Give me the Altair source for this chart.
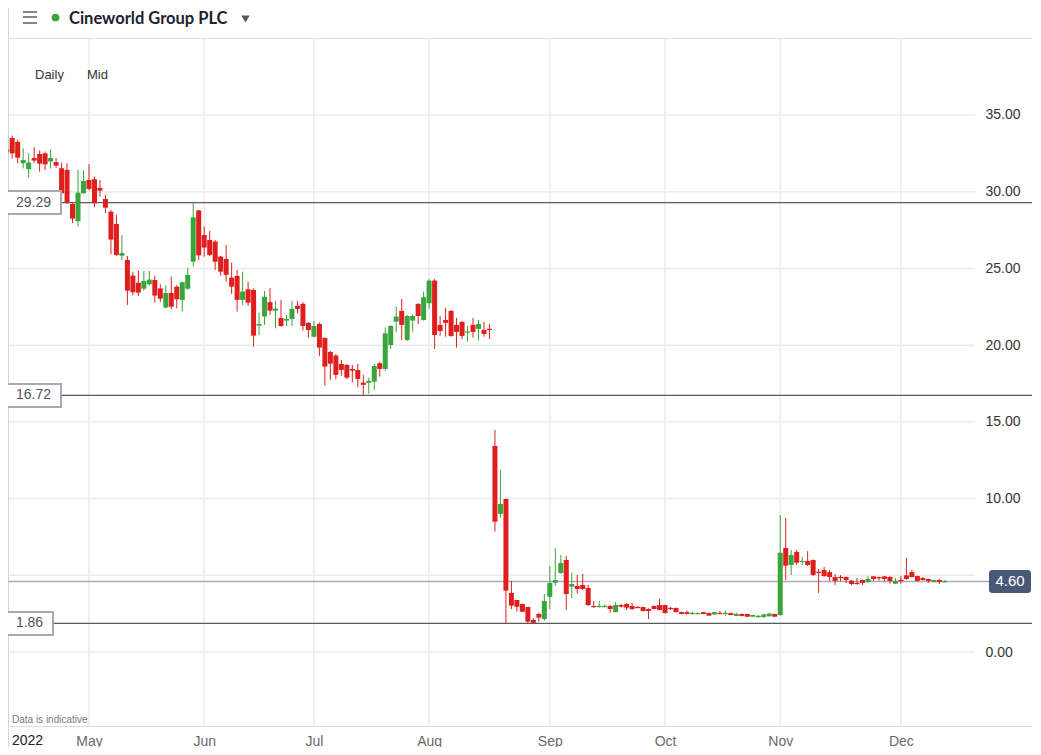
import altair as alt
import pandas as pd

# ---------------- data ----------------
opens = [32.6, 33.5, 33.25, 31.86, 31.47, 32.2, 32.46, 32.5, 31.97, 31.93,
         31.53, 31.42, 29.2, 28.08, 29.9, 30.77, 30.81, 30.25, 29.53, 28.7,
         27.9, 25.83, 25.55, 24.53, 24.07, 23.68, 23.97, 24.25, 23.7, 22.45,
         23.4, 23.81, 22.95, 23.68, 25.44, 28.78, 27.18, 26.86, 26.75, 25.77,
         25.62, 24.4, 24.51, 22.95, 23.64, 23.6, 21.27, 21.86, 22.8, 22.25,
         21.77, 21.6, 21.71, 22.56, 22.69, 21.45, 20.55, 21.38, 20.47, 19.56,
         19.32, 18.77, 18.71, 18.45, 18.38, 17.56, 17.54, 17.62, 18.82, 18.45,
         20.01, 21.53, 22.23, 20.34, 21.6, 22.69, 21.64, 22.73, 24.21, 21.32,
         21.64, 22.23, 21.32, 21.51, 20.82, 21.32, 21.06, 20.99, 21.06, 13.43,
         9.0, 9.97, 3.85, 3.39, 3.13, 2.93, 2.09, 2.48, 2.15, 3.6,
         4.52, 5.15, 6.0, 4.26, 4.3, 4.37, 4.17, 3.0, 2.93, 2.93,
         3.0, 2.6, 3.06, 3.13, 3.0, 2.93, 2.93, 2.8, 3.0, 3.06,
         3.06, 2.87, 2.87, 2.6, 2.6, 2.48, 2.47, 2.6, 2.54, 2.45,
         2.54, 2.48, 2.54, 2.35, 2.48, 2.48, 2.3, 2.28, 2.28, 2.33,
         2.48, 2.41, 6.78, 5.67, 6.52, 5.87, 5.93, 6.0, 5.23, 5.35,
         5.21, 4.89, 4.89, 4.89, 4.65, 4.5, 4.69, 4.56, 4.93, 4.89,
         4.93, 4.89, 4.45, 4.69, 5.0, 5.21, 4.95, 4.82, 4.76, 4.56,
         4.69, 4.56]
highs = [32.8, 33.66, 33.4, 32.83, 32.5, 32.9, 32.68, 32.62, 32.77, 32.2,
         31.9, 31.86, 29.25, 31.42, 31.38, 31.79, 30.98, 30.77, 29.79, 28.81,
         28.5, 27.18, 25.81, 24.79, 24.86, 24.84, 24.84, 24.53, 23.97, 23.9,
         24.47, 23.9, 24.14, 25.05, 29.29, 28.81, 27.73, 27.44, 26.86, 25.83,
         26.53, 25.38, 24.9, 24.79, 24.12, 23.7, 22.12, 23.53, 23.71, 22.88,
         22.95, 21.97, 22.88, 22.88, 22.8, 21.5, 21.58, 21.47, 20.5, 19.62,
         19.43, 19.04, 18.77, 18.71, 18.77, 18.06, 17.88, 18.77, 18.9, 21.14,
         21.3, 22.51, 23.01, 21.97, 22.01, 22.73, 23.49, 24.3, 24.3, 21.9,
         22.43, 22.29, 21.77, 21.58, 21.25, 21.77, 21.64, 21.51, 21.38, 14.47,
         11.86, 10.0, 4.63, 3.4, 3.15, 2.95, 2.2, 2.56, 3.78, 5.61,
         6.78, 6.32, 6.26, 5.15, 5.02, 5.08, 4.37, 3.32, 3.32, 3.1,
         3.05, 3.26, 3.13, 3.19, 3.19, 2.98, 2.96, 2.85, 3.03, 3.45,
         3.08, 2.93, 2.9, 2.63, 2.7, 2.63, 2.56, 2.62, 2.56, 2.63,
         2.67, 2.7, 2.56, 2.56, 2.5, 2.5, 2.43, 2.41, 2.5, 2.56,
         2.5, 8.93, 8.74, 6.65, 6.65, 6.19, 6.58, 6.02, 5.41, 5.54,
         5.35, 5.08, 5.02, 4.92, 4.7, 4.82, 4.72, 4.95, 4.95, 4.93,
         4.95, 4.95, 4.82, 4.95, 6.13, 5.35, 4.98, 4.9, 4.78, 4.72,
         4.76, 4.7]
lows = [32.5, 32.16, 31.86, 31.53, 30.93, 31.86, 31.31, 31.42, 31.51, 31.55,
        29.85, 29.2, 27.95, 27.73, 29.85, 30.1, 28.99, 29.68, 28.6, 25.93,
        25.8, 25.55, 22.62, 23.23, 23.2, 23.55, 23.9, 22.77, 22.8, 22.4,
        22.34, 22.4, 22.18, 23.6, 25.12, 25.55, 25.77, 25.8, 24.9, 24.53,
        24.14, 23.34, 22.18, 22.62, 22.56, 19.9, 20.66, 21.32, 21.97, 21.1,
        21.2, 21.25, 21.25, 22.08, 20.95, 20.49, 20.5, 19.3, 17.36, 17.73,
        17.78, 18.0, 17.8, 17.58, 17.25, 16.75, 16.84, 17.08, 17.95, 18.32,
        19.75, 20.82, 20.34, 20.27, 20.88, 21.38, 21.6, 22.36, 19.75, 20.62,
        20.55, 20.55, 19.84, 20.4, 20.23, 20.49, 20.3, 20.55, 20.4, 7.84,
        8.75, 1.87, 2.8, 2.63, 2.6, 1.87, 1.86, 1.98, 2.04, 2.8,
        4.32, 5.1, 2.74, 3.52, 3.8, 4.04, 3.0, 2.87, 2.9, 2.9,
        2.56, 2.58, 2.9, 2.74, 2.75, 2.85, 2.64, 2.15, 2.78, 2.72,
        2.5, 2.74, 2.58, 2.46, 2.44, 2.44, 2.45, 2.46, 2.35, 2.43,
        2.46, 2.37, 2.39, 2.33, 2.33, 2.28, 2.28, 2.22, 2.22, 2.31,
        2.28, 2.35, 4.69, 5.02, 5.67, 5.67, 5.6, 4.95, 3.85, 4.9,
        4.63, 4.37, 4.6, 4.5, 4.37, 4.4, 4.37, 4.52, 4.63, 4.65,
        4.6, 4.45, 4.43, 4.45, 4.7, 4.85, 4.6, 4.66, 4.5, 4.54,
        4.43, 4.54]
closes = [32.75, 32.5, 32.22, 32.07, 31.9, 32.03, 31.83, 31.78, 32.2, 31.7,
          29.9, 29.29, 28.25, 29.94, 30.7, 30.18, 29.25, 30.07, 28.96, 26.88,
          25.88, 26.0, 23.55, 23.45, 23.42, 24.18, 24.27, 23.23, 23.03, 23.4,
          22.51, 22.99, 24.1, 24.58, 28.33, 25.85, 26.36, 25.88, 25.44, 24.79,
          24.58, 23.81, 22.95, 23.49, 22.77, 20.62, 21.38, 23.16, 22.25, 22.38,
          21.25, 21.71, 22.36, 22.36, 21.25, 20.99, 21.25, 19.84, 18.6, 18.79,
          18.06, 18.38, 17.88, 18.34, 17.8, 17.41, 17.67, 18.64, 18.45, 20.77,
          21.25, 21.86, 21.32, 21.9, 21.9, 21.9, 23.12, 24.21, 20.66, 20.92,
          21.45, 20.6, 20.86, 20.6, 20.88, 20.86, 21.38, 20.73, 20.99, 8.49,
          9.65, 4.0, 3.02, 2.95, 2.63, 1.98, 1.9, 2.24, 3.32, 4.5,
          4.69, 5.8, 3.78, 4.43, 4.11, 4.11, 3.06, 2.93, 3.0, 3.0,
          2.8, 3.06, 2.95, 2.89, 2.8, 2.87, 2.67, 2.67, 2.8, 2.74,
          2.54, 2.8, 2.6, 2.48, 2.48, 2.54, 2.54, 2.48, 2.37, 2.6,
          2.48, 2.54, 2.41, 2.48, 2.35, 2.3, 2.41, 2.35, 2.45, 2.5,
          2.3, 6.47, 5.63, 6.32, 5.82, 5.93, 5.67, 5.02, 5.15, 4.95,
          4.89, 4.63, 4.82, 4.69, 4.43, 4.43, 4.5, 4.76, 4.76, 4.8,
          4.76, 4.63, 4.63, 4.63, 4.76, 4.89, 4.63, 4.69, 4.63, 4.69,
          4.56, 4.6]

month_names = ["May", "Jun", "Jul", "Aug", "Sep", "Oct", "Nov", "Dec"]
month_start_idx = [15, 36, 56, 77, 99, 120, 141, 163]
grid_values = [0, 5, 10, 15, 20, 25, 30, 35]
axis_label_values = [0, 10, 15, 20, 25, 30, 35]
level_values = [29.29, 16.72]
level_values_small = [1.86]
last_price = 4.60

# ---------------- layout ----------------
W, H = 1024, 688
PX_DAY = 5.486
PX_UNIT = 15.343
x_dom = [1.3 / PX_DAY, 1.3 / PX_DAY + W / PX_DAY]
y_top = 614 / PX_UNIT
y_dom = [y_top - H / PX_UNIT, y_top]
BOX_HALF = 11.5 / PX_UNIT

RED = "#e01e1e"
GREEN = "#3aa53a"
FONT = "Liberation Sans"

candles = pd.DataFrame({"idx": list(range(len(opens))), "open": opens, "high": highs,
                        "low": lows, "close": closes})
candles["dir"] = ["up" if c >= o else "down" for o, c in zip(opens, closes)]
lo = candles[["open", "close"]].min(axis=1)
hi = candles[["open", "close"]].max(axis=1)
mid = (lo + hi) / 2
small = (hi - lo) < 0.08
candles["body_lo"] = lo.where(~small, mid - 0.04)
candles["body_hi"] = hi.where(~small, mid + 0.04)

xs = alt.Scale(domain=x_dom, nice=False, zero=False, padding=0)
ys = alt.Scale(domain=y_dom, nice=False, zero=False, padding=0)
label_expr = " : ".join(f"datum.value == {i} ? '{n}'" for i, n in zip(month_start_idx, month_names)) + " : ''"
xaxis = alt.Axis(values=month_start_idx, labelExpr=label_expr, grid=False, domain=False,
                 ticks=False, tickSize=0, labelPadding=15, labelBaseline="middle",
                 labelFont=FONT, labelFontSize=14, labelColor="#6a6a6a", title=None,
                 labelFlush=False, zindex=0)
yaxis = alt.Axis(orient="right", values=axis_label_values, format=".2f", grid=False,
                 domain=False, ticks=False, tickSize=0, labelPadding=4, offset=-51,
                 labelFont=FONT, labelFontSize=14, labelColor="#333333", title=None,
                 labelAlign="left", zindex=1)


def X(f):
    return alt.X(f, type="quantitative", scale=xs, axis=xaxis)


def Y(f):
    return alt.Y(f, type="quantitative", scale=ys, axis=yaxis)


color = alt.Color("dir:N", scale=alt.Scale(domain=["up", "down"], range=[GREEN, RED]), legend=None)
one = alt.Data(values=[{}])

hgrid = alt.Chart(pd.DataFrame({"v": grid_values})).mark_rule(color="#ececec", strokeWidth=1.5).encode(
    y=Y("v"), x=alt.value(0), x2=alt.value(967))
vgrid = alt.Chart(pd.DataFrame({"i": month_start_idx})).mark_rule(color="#ececec", strokeWidth=1.5).encode(
    x=X("i"), y=alt.value(0), y2=alt.value(H))
left_border = alt.Chart(one).mark_rule(color="#d4d4d4", strokeWidth=1).encode(
    x=alt.value(0.5), y=alt.value(-30), y2=alt.value(H + 21))
header_line = alt.Chart(one).mark_rule(color="#dedede", strokeWidth=1).encode(
    y=alt.value(0.5), x=alt.value(0), x2=alt.value(W))

lv = pd.DataFrame({"v": level_values + level_values_small})
level_lines = alt.Chart(lv).mark_rule(color="#5a5a5a", strokeWidth=1.2).encode(
    y=Y("v"), x=alt.value(0), x2=alt.value(W))
last_line = alt.Chart(pd.DataFrame({"v": [last_price]})).mark_rule(color="#a7abb6", strokeWidth=1.5).encode(
    y=Y("v"), x=alt.value(0), x2=alt.value(985))

wicks = alt.Chart(candles).mark_rule(strokeWidth=1).encode(
    x=X("idx"), y=Y("low"), y2=alt.Y2("high"), color=color)
bodies = alt.Chart(candles).mark_bar(size=5).encode(
    x=X("idx"), y=Y("body_lo"), y2=alt.Y2("body_hi"), color=color)


def level_box(values, x2, tx):
    df = pd.DataFrame({"v": values})
    base = alt.Chart(df).transform_calculate(
        hi=f"datum.v + {BOX_HALF}", lo=f"datum.v - {BOX_HALF}",
        lab="format(datum.v, '.2f')")
    box = base.mark_rect(fill="white", stroke="#a9a9b2", strokeWidth=2).encode(
        x=alt.value(-2), x2=alt.value(x2), y=Y("hi:Q"), y2=alt.Y2("lo:Q"))
    txt = base.mark_text(font=FONT, fontSize=14, color="#555555", align="center", baseline="middle").encode(
        x=alt.value(tx), y=Y("v"), text="lab:N")
    return [box, txt]


last_df = pd.DataFrame({"v": [last_price]})
last_base = alt.Chart(last_df).transform_calculate(
    hi=f"datum.v + {BOX_HALF}", lo=f"datum.v - {BOX_HALF}", lab="format(datum.v, '.2f')")
last_box = last_base.mark_rect(fill="#4a5878", cornerRadius=3).encode(
    x=alt.value(981), x2=alt.value(1023), y=Y("hi:Q"), y2=alt.Y2("lo:Q"))
last_txt = last_base.mark_text(font=FONT, fontSize=15, color="white", align="center", baseline="middle").encode(
    x=alt.value(1002), y=Y("v"), text="lab:N")

header = []
for yy in (-26, -21, -15):
    header.append(alt.Chart(one).mark_rule(color="#666666", strokeWidth=1.6).encode(
        x=alt.value(15), x2=alt.value(29), y=alt.value(yy)))
header.append(alt.Chart(one).mark_point(shape="circle", filled=True, size=60, color=GREEN, opacity=1).encode(
    x=alt.value(47.5), y=alt.value(-20.5)))
header.append(alt.Chart(one).mark_text(text="Cineworld Group PLC", font="Lato", fontSize=16.5, fontWeight=700,
                                       color="#1d2130", align="left", baseline="middle").encode(
    x=alt.value(61), y=alt.value(-19)))
header.append(alt.Chart(one).mark_point(shape="triangle-down", filled=True, size=70, color="#555555", opacity=1).encode(
    x=alt.value(237.5), y=alt.value(-19)))


def label(t, x, y, size, col, align="left"):
    return alt.Chart(one).mark_text(text=t, font=FONT, fontSize=size, color=col, align=align,
                                    baseline="middle").encode(x=alt.value(x), y=alt.value(y))


texts = [label("Daily", 27, 37, 13, "#333333"), label("Mid", 79, 37, 13, "#333333"),
         label("Data is indicative", 4, 682, 10, "#7a7a7a"), label("2022", 4, 703, 14, "#222222")]

layers = ([hgrid, vgrid, left_border, header_line, level_lines, last_line, wicks, bodies]
          + level_box(level_values, 53, 25.5) + level_box(level_values_small, 45, 21.5)
          + [last_box, last_txt] + header + texts)

chart = alt.layer(*layers).properties(
    width=W, height=H,
    padding={"left": 0, "top": 30, "right": 0, "bottom": 21},
    autosize=alt.AutoSizeParams(type="none"),
).configure_view(stroke=None).configure(background="white")

chart.save("out.html", embed_options={"renderer": "svg", "actions": False})
